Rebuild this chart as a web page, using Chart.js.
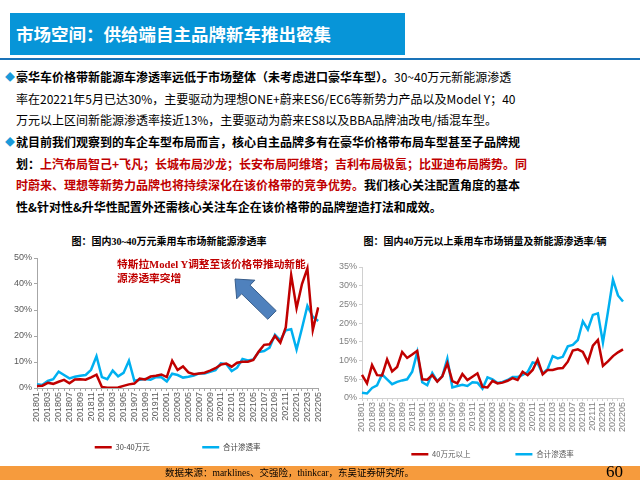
<!DOCTYPE html>
<html>
<head>
<meta charset="utf-8">
<script src="https://cdn.jsdelivr.net/npm/chart.js@4.4.1/dist/chart.umd.min.js"></script>
<style>
  body { margin: 0; width: 640px; height: 480px; position: relative; overflow: hidden; background: #fff;
         font-family: "Noto Sans CJK SC", sans-serif; }
  .abs { position: absolute; white-space: nowrap; }
  #titlebar { left: 10px; top: 13px; width: 395px; height: 42px; background: #0795d8; }
  #titletext { left: 16px; top: 13px; line-height: 42px; color: #fff; font-weight: bold; font-size: 17.5px; }
  #rule { left: 0; top: 58px; width: 640px; height: 2px; background: #1a73b8; }
  .para { left: 16px; font-size: 12px; line-height: 21.7px; color: #000; }
  .dia { position: absolute; left: -11px; color: #1a9ad9; font-size: 10px; }
  .red { color: #c00000; }
  .ctitle { font-family: "Liberation Serif", "Noto Sans CJK SC", serif; font-weight: bold; font-size: 10px; color: #000; }
  #note { left: 117px; top: 258px; font-family: "Liberation Serif", "Noto Sans CJK SC", serif; font-weight: bold;
          font-size: 10.7px; line-height: 13.5px; color: #c00000; }
  canvas { position: absolute; }
  #footer { left: 0; top: 466px; width: 640px; height: 14px; background: #f69b3d; }
  #src { left: 165px; top: 466px; line-height: 14px; font-size: 9.5px; color: #000;
         font-family: "Liberation Serif", "Noto Sans CJK SC", serif; }
  #page { left: 606px; top: 462px; line-height: 20px; font-size: 17px; font-family: "Liberation Serif", serif; color: #000; }
</style>
</head>
<body>
<div id="titlebar" class="abs"></div>
<div id="titletext" class="abs">市场空间：供给端自主品牌新车推出密集</div>
<div id="rule" class="abs"></div>

<div class="abs para" style="top:66px;"><span class="dia" style="top:0">◆</span><b>豪华车价格带新能源车渗透率远低于市场整体（未考虑进口豪华车型）。</b>30~40万元新能源渗透<br>率在20221年5月已达30%，主要驱动为理想ONE+蔚来ES6/EC6等新势力产品以及Model Y；40<br>万元以上区间新能源渗透率接近13%，主要驱动为蔚来ES8以及BBA品牌油改电/插混车型。</div>
<div class="abs para" style="top:131px; font-weight:bold;"><span class="dia" style="top:0">◆</span>就目前我们观察到的车企车型布局而言，核心自主品牌多有在豪华价格带布局车型甚至子品牌规<br>划：<span class="red">上汽布局智己+飞凡；长城布局沙龙；长安布局阿维塔；吉利布局极氪；比亚迪布局腾势。同<br>时蔚来、理想等新势力品牌也将持续深化在该价格带的竞争优势。</span>我们核心关注配置角度的基本<br>性&amp;针对性&amp;升华性配置外还需核心关注车企在该价格带的品牌塑造打法和成效。</div>

<div class="abs ctitle" style="left:0; width:330px; top:233px; text-align:center; padding-left:4px;">图：国内30~40万元乘用车市场新能源渗透率</div>
<div class="abs ctitle" style="left:330px; width:310px; top:233px; text-align:center;">图：国内40万元以上乘用车市场销量及新能源渗透率/辆</div>

<canvas id="c1" width="330" height="211" style="left:0; top:250px;"></canvas>
<canvas id="c2" width="310" height="218" style="left:330px; top:250px;"></canvas>

<svg class="abs" style="left:0; top:0;" width="640" height="480">
  <polygon points="276.2,310.7 250.0,285.2 254.9,280.2 235,279 236.7,298.8 241.6,293.8 267.8,319.3"
           fill="#4f81bd" stroke="#385d8a" stroke-width="1"/>
</svg>
<div id="note" class="abs">特斯拉Model Y调整至该价格带推动新能<br>源渗透率突增</div>

<div id="footer" class="abs"></div>
<div id="src" class="abs">数据来源：marklines、交强险，thinkcar，东吴证券研究所。</div>
<div id="page" class="abs">60</div>

<script>
const months = [
  '201801','201802','201803','201804','201805','201806','201807','201808','201809','201810','201811','201812',
  '201901','201902','201903','201904','201905','201906','201907','201908','201909','201910','201911','201912',
  '202001','202002','202003','202004','202005','202006','202007','202008','202009','202010','202011','202012',
  '202101','202102','202103','202104','202105','202106','202107','202108','202109','202110','202111','202112',
  '202201','202202','202203','202204','202205'
];

// 30-40万元 penetration, %
const band3040 = [
  0.8, 0.9, 2.0, 1.6, 2.4, 3.1, 1.8, 3.3, 3.4, 3.2, 4.1, 5.1,
  0.4, 0.1, 0.1, 0.2, 0.8, 1.4, 1.7, 3.6, 3.3, 4.4, 4.7, 5.2,
  4.2, 10.5, 6.9, 8.3, 6.0, 5.3, 5.6, 5.9, 6.7, 7.6, 9.0, 9.4,
  8.2, 9.7, 10.1, 10.1, 10.8, 14.0, 16.6, 16.8, 20.0, 17.4, 23.3, 43.5,
  30.7, 40.0, 46.0, 22.3, 31.0
];

// 40万元以上 penetration, %
const above40 = [
  6.2, 3.9, 8.8, 6.1, 6.0, 10.3, 7.1, 8.3, 12.3, 10.7, 11.6, 12.6,
  5.0, 4.9, 6.1, 4.4, 5.8, 9.3, 4.5, 3.9, 6.4, 4.8, 5.7, 6.6,
  3.0, 2.8, 4.6, 3.9, 4.1, 4.6, 5.3, 4.8, 7.0, 6.1, 7.5, 10.3,
  6.3, 7.5, 7.5, 7.9, 8.0, 9.7, 12.7, 13.0, 12.3, 9.6, 14.0, 15.5,
  8.6, 9.8, 11.2, 12.2, 13.0
];

// 合计渗透率 (whole market), %
const totalRate = [
  1.4, 1.2, 2.7, 3.4, 6.3, 5.0, 3.7, 4.3, 4.7, 5.0, 7.0, 12.2,
  4.2, 3.4, 6.7, 4.5, 5.8, 10.5, 2.8, 3.2, 3.5, 3.2, 4.2, 4.1,
  2.5, 5.5, 5.0, 4.0, 4.3, 4.8, 5.6, 5.6, 6.2, 6.9, 9.5, 9.2,
  6.5, 7.8, 11.2, 10.6, 11.0, 13.8, 14.2, 15.5, 20.5, 18.3, 22.2, 22.6,
  14.8, 23.0, 31.6, 27.4, 25.8
];

const RED = '#c00000';
const BLUE = '#00b0f0';
const SANS = '"Liberation Sans", Arial, sans-serif';
const CJK = '"Noto Sans CJK SC", sans-serif';

function drawChart(id, redLabel, redData, yMax, opt) {
  const ctx = document.getElementById(id).getContext('2d');
  return new Chart(ctx, {
    type: 'line',
    data: {
      labels: months,
      datasets: [
        { label: redLabel, data: redData, borderColor: RED, backgroundColor: RED,
          borderWidth: 2.5, pointRadius: 0, tension: 0 },
        { label: '合计渗透率', data: totalRate, borderColor: BLUE, backgroundColor: BLUE,
          borderWidth: 2.5, pointRadius: 0, tension: 0 },
      ],
    },
    options: {
      responsive: false,
      animation: false,
      layout: { padding: opt.padding },
      plugins: {
        tooltip: { enabled: false },
        legend: {
          position: 'bottom',
          fullSize: false,
          labels: {
            usePointStyle: true,
            pointStyle: 'line',
            pointStyleWidth: 17,
            padding: 15,
            color: opt.legendColor,
            font: { size: 7.5, family: CJK },
            generateLabels(chart) {
              const items = Chart.defaults.plugins.legend.labels.generateLabels(chart);
              items[0].text += opt.gap;
              return items;
            },
          },
        },
      },
      scales: {
        x: {
          ticks: {
            autoSkip: false, maxRotation: 90, minRotation: 90, padding: 1,
            color: opt.tickColor, font: { size: 9, family: SANS },
            callback(v, i) { return i % 2 === 0 ? this.getLabelForValue(v) : ''; },
          },
          grid: { drawOnChartArea: false, tickLength: 3, color: opt.axisColor },
          border: { color: opt.axisColor },
          afterFit(s) { s.height = opt.xHeight; },
        },
        y: {
          min: 0, max: yMax,
          ticks: { stepSize: 5, padding: 2, color: opt.tickColor, font: { size: 9, family: SANS },
                   callback: (v) => v + '%' },
          grid: { drawOnChartArea: false, tickLength: 3, color: opt.axisColor },
          border: { color: opt.axisColor },
          afterFit(s) { s.width = opt.yWidth; },
        },
      },
    },
  });
}

drawChart('c1', '30-40万元', band3040, 50, {
  padding: { left: 0, right: 8, top: 8, bottom: 0 },
  yWidth: 37, xHeight: 40.5, gap: '\u3000\u3000\u3000\u3000\u3000',
  tickColor: '#595959', axisColor: '#a6a6a6', legendColor: '#404040',
});

drawChart('c2', '40万元以上', above40, 35, {
  padding: { left: 0, right: 17, top: 17, bottom: 0 },
  yWidth: 32, xHeight: 37.5, gap: '\u3000\u3000\u3000\u3000',
  tickColor: '#7f7f7f', axisColor: '#d0d0d0', legendColor: '#595959',
});
</script>
</body>
</html>
